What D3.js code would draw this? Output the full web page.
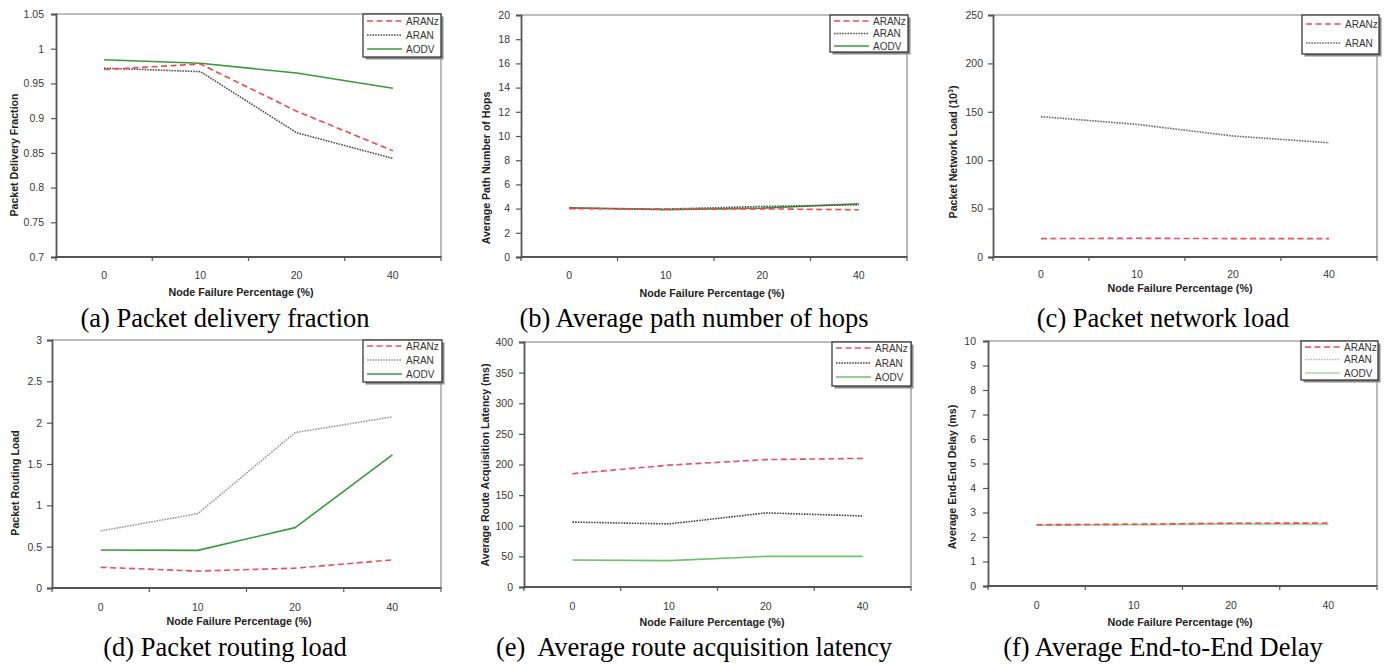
<!DOCTYPE html>
<html>
<head>
<meta charset="utf-8">
<script src="https://cdn.jsdelivr.net/npm/d3@7"></script>
<style>
  html, body { margin: 0; padding: 0; background: #fff; }
  svg { display: block; }
</style>
</head>
<body>
<svg id="chart" width="1388" height="666"></svg>
<script>
// ---------------- DATA ----------------
const categories = ["0", "10", "20", "40"];
const seriesNames = ["ARANz", "ARAN", "AODV"];

const pdfARANz = [0.970, 0.978, 0.910, 0.853];
const pdfARAN  = [0.972, 0.967, 0.879, 0.842];
const pdfAODV  = [0.984, 0.979, 0.965, 0.943];
const pdfTicks = [0.7, 0.75, 0.8, 0.85, 0.9, 0.95, 1, 1.05];

const hopsARANz = [4.00, 3.96, 3.98, 3.90];
const hopsARAN  = [4.04, 3.96, 4.18, 4.31];
const hopsAODV  = [4.07, 3.90, 4.04, 4.40];
const hopsTicks = [0, 2, 4, 6, 8, 10, 12, 14, 16, 18, 20];

const loadARANz = [19, 19.3, 19, 19];
const loadARAN  = [145, 137, 125, 118];
const loadTicks = [0, 50, 100, 150, 200, 250];

const routingARANz = [0.25, 0.205, 0.24, 0.34];
const routingARAN  = [0.69, 0.90, 1.88, 2.07];
const routingAODV  = [0.46, 0.455, 0.73, 1.61];
const routingTicks = [0, 0.5, 1, 1.5, 2, 2.5, 3];

const latencyARANz = [185, 199, 208, 210];
const latencyARAN  = [106, 103, 121, 116];
const latencyAODV  = [44, 43, 50, 50];
const latencyTicks = [0, 50, 100, 150, 200, 250, 300, 350, 400];

const delayARANz = [2.50, 2.52, 2.56, 2.57];
const delayARAN  = [2.50, 2.52, 2.56, 2.53];
const delayAODV  = [2.48, 2.49, 2.52, 2.51];
const delayTicks = [0, 1, 2, 3, 4, 5, 6, 7, 8, 9, 10];

const xTitle = "Node Failure Percentage (%)";

// ---------------- LAYOUT / STYLE ----------------
const styles = {
  ARANz: { color: "#f04848", dash: "6,3.5", width: 1.6 },
  ARAN:  { color: "#505050", dash: "1.6,1.1", width: 1.6 },
  AODV:  { color: "#3a9a3a", dash: null, width: 1.6 }
};

const panels = [
  { id: "a", series: [pdfARANz, pdfARAN, pdfAODV], names: seriesNames, ticks: pdfTicks,
    yTitle: "Packet Delivery Fraction", caption: "(a) Packet delivery fraction",
    plot: [56, 441, 14, 257], legend: [363, 441, 14, 57], legendY: [21, 35, 49],
    yTitlePos: [14, 155], xTitlePos: [241, 296], tickBase: 279, yLabelGap: 12,
    captionPos: [225, 327], colors: {} },
  { id: "b", series: [hopsARANz, hopsARAN, hopsAODV], names: seriesNames, ticks: hopsTicks,
    yTitle: "Average Path Number of Hops", caption: "(b) Average path number of hops",
    plot: [521, 907, 15, 257], legend: [830, 908, 15, 52], legendY: [21, 33.5, 46],
    yTitlePos: [486, 168], xTitlePos: [712, 297], tickBase: 279, yLabelGap: 11,
    captionPos: [694, 327], colors: {} },
  { id: "c", series: [loadARANz, loadARAN], names: seriesNames.slice(0, 2), ticks: loadTicks,
    yTitle: "Packet Network Load (10", sup: "3", caption: "(c) Packet network load",
    plot: [993, 1377, 15, 257], legend: [1302, 1379, 15, 54], legendY: [24, 43],
    yTitlePos: [953, 152], xTitlePos: [1180, 292], tickBase: 278, yLabelGap: 10,
    captionPos: [1163, 327], colors: { ARANz: "#e85060", ARAN: "#6a6a6a" } },
  { id: "d", series: [routingARANz, routingARAN, routingAODV], names: seriesNames, ticks: routingTicks,
    yTitle: "Packet Routing Load", caption: "(d) Packet routing load",
    plot: [52, 441, 340, 588], legend: [363, 442, 340, 382], legendY: [346, 360, 374],
    yTitlePos: [15, 483], xTitlePos: [239, 625], tickBase: 611, yLabelGap: 10,
    captionPos: [225, 656], colors: { ARANz: "#e85060", ARAN: "#9a9a9a" } },
  { id: "e", series: [latencyARANz, latencyARAN, latencyAODV], names: seriesNames, ticks: latencyTicks,
    yTitle: "Average Route Acquisition Latency (ms)", caption: "(e)  Average route acquisition latency",
    plot: [524, 911, 342, 587], legend: [832, 911, 342, 386], legendY: [348, 363, 377],
    yTitlePos: [485, 465], xTitlePos: [712, 626], tickBase: 610, yLabelGap: 11,
    captionPos: [694, 656], colors: { ARANz: "#e85060", ARAN: "#444444", AODV: "#6fbf6f" } },
  { id: "f", series: [delayARANz, delayARAN, delayAODV], names: seriesNames, ticks: delayTicks,
    yTitle: "Average End-End Delay (ms)", caption: "(f) Average End-to-End Delay",
    plot: [988, 1377, 341, 586], legend: [1301, 1378, 341, 380], legendY: [347, 359.5, 373],
    yTitlePos: [952, 477], xTitlePos: [1180, 626], tickBase: 609, yLabelGap: 12,
    captionPos: [1163, 656], colors: { ARAN: "#b8b8b8", AODV: "#a6dca6" } }
];

const svg = d3.select("#chart");
const sansFont = "'Liberation Sans', Arial, sans-serif";
const serifFont = "'Liberation Serif', 'Times New Roman', serif";

panels.forEach(p => {
  const [x0, x1, y0, y1] = p.plot;
  const g = svg.append("g").attr("class", "panel-" + p.id);

  const x = d3.scaleBand().domain(categories).range([x0, x1]).padding(0);
  const y = d3.scaleLinear().domain([p.ticks[0], p.ticks[p.ticks.length - 1]]).range([y1, y0]);

  // plot frame: top & right light
  g.append("path")
    .attr("d", d3.line()([[x0, y0], [x1, y0], [x1, y1]]))
    .attr("fill", "none").attr("stroke", "#a8a8a8").attr("stroke-width", 1.6);

  // y axis
  const yAxis = d3.axisLeft(y).tickValues(p.ticks).tickFormat(d => String(d))
    .tickSize(5).tickPadding(p.yLabelGap - 5);
  const ya = g.append("g").attr("transform", `translate(${x0},0)`).call(yAxis);
  ya.select(".domain").attr("stroke", "#555").attr("stroke-width", 1.8);
  ya.selectAll(".tick line").attr("stroke", "#555").attr("stroke-width", 1.2);
  ya.selectAll(".tick text").attr("font-family", sansFont).attr("font-size", 10.5)
    .attr("fill", "#383838");

  // x axis (labels at band centres)
  const xAxis = d3.axisBottom(x).tickSize(0).tickPadding(p.tickBase - y1 - 7.5);
  const xa = g.append("g").attr("transform", `translate(0,${y1})`).call(xAxis);
  xa.select(".domain").remove();
  xa.selectAll(".tick text").attr("font-family", sansFont).attr("font-size", 10.5)
    .attr("fill", "#383838");
  g.append("line").attr("x1", x0).attr("x2", x1).attr("y1", y1).attr("y2", y1)
    .attr("stroke", "#555").attr("stroke-width", 1.8);
  // boundary tick marks
  const bounds = categories.map(c => x(c)).concat([x1]);
  g.selectAll("line.bt").data(bounds).enter().append("line").attr("class", "bt")
    .attr("x1", d => d).attr("x2", d => d).attr("y1", y1 - 1).attr("y2", y1 + 4)
    .attr("stroke", "#555").attr("stroke-width", 1.2);

  // axis titles
  const yt = g.append("text")
    .attr("transform", `translate(${p.yTitlePos[0]},${p.yTitlePos[1]}) rotate(-90)`)
    .attr("text-anchor", "middle").attr("dominant-baseline", "central")
    .attr("font-family", sansFont).attr("font-weight", "bold").attr("font-size", 10.6)
    .attr("fill", "#222").text(p.yTitle);
  if (p.sup) {
    yt.append("tspan").attr("font-size", 7).attr("dy", -3.5).text(p.sup);
    yt.append("tspan").attr("dy", 3.5).text(")");
  }
  g.append("text").attr("x", p.xTitlePos[0]).attr("y", p.xTitlePos[1])
    .attr("text-anchor", "middle").attr("font-family", sansFont)
    .attr("font-weight", "bold").attr("font-size", 10.7).attr("fill", "#222").text(xTitle);

  // series lines
  const line = d3.line().x((d, i) => x(categories[i]) + x.bandwidth() / 2).y(d => y(d));
  const order = p.series.map((s, i) => i).reverse();
  order.forEach(i => {
    const name = p.names[i];
    const st = styles[name];
    const col = p.colors[name] || st.color;
    g.append("path").datum(p.series[i]).attr("d", line)
      .attr("fill", "none").attr("stroke", col).attr("stroke-width", st.width)
      .attr("stroke-dasharray", st.dash).attr("stroke-linejoin", "round");
  });

  // legend
  const [lx0, lx1, ly0, ly1] = p.legend;
  g.append("rect").attr("x", lx0 + 2.5).attr("y", ly0 + 2.5).attr("width", lx1 - lx0)
    .attr("height", ly1 - ly0).attr("fill", "#8a8a8a");
  g.append("rect").attr("x", lx0).attr("y", ly0).attr("width", lx1 - lx0)
    .attr("height", ly1 - ly0).attr("fill", "#fff").attr("stroke", "#2a2a2a").attr("stroke-width", 1.2);
  p.names.forEach((name, i) => {
    const st = styles[name];
    const col = p.colors[name] || st.color;
    const ly = p.legendY[i];
    g.append("line").attr("x1", lx0 + 4).attr("x2", lx0 + 39).attr("y1", ly).attr("y2", ly)
      .attr("stroke", col).attr("stroke-width", st.width).attr("stroke-dasharray", st.dash);
    g.append("text").attr("x", lx0 + 43).attr("y", ly).attr("dominant-baseline", "central")
      .attr("font-family", sansFont).attr("font-size", 10).attr("fill", "#333").text(name);
  });

  // caption
  svg.append("text").attr("x", p.captionPos[0]).attr("y", p.captionPos[1])
    .attr("text-anchor", "middle").attr("font-family", serifFont).attr("font-size", 26.5)
    .attr("fill", "#000").style("white-space", "pre").text(p.caption);
});
</script>
</body>
</html>
